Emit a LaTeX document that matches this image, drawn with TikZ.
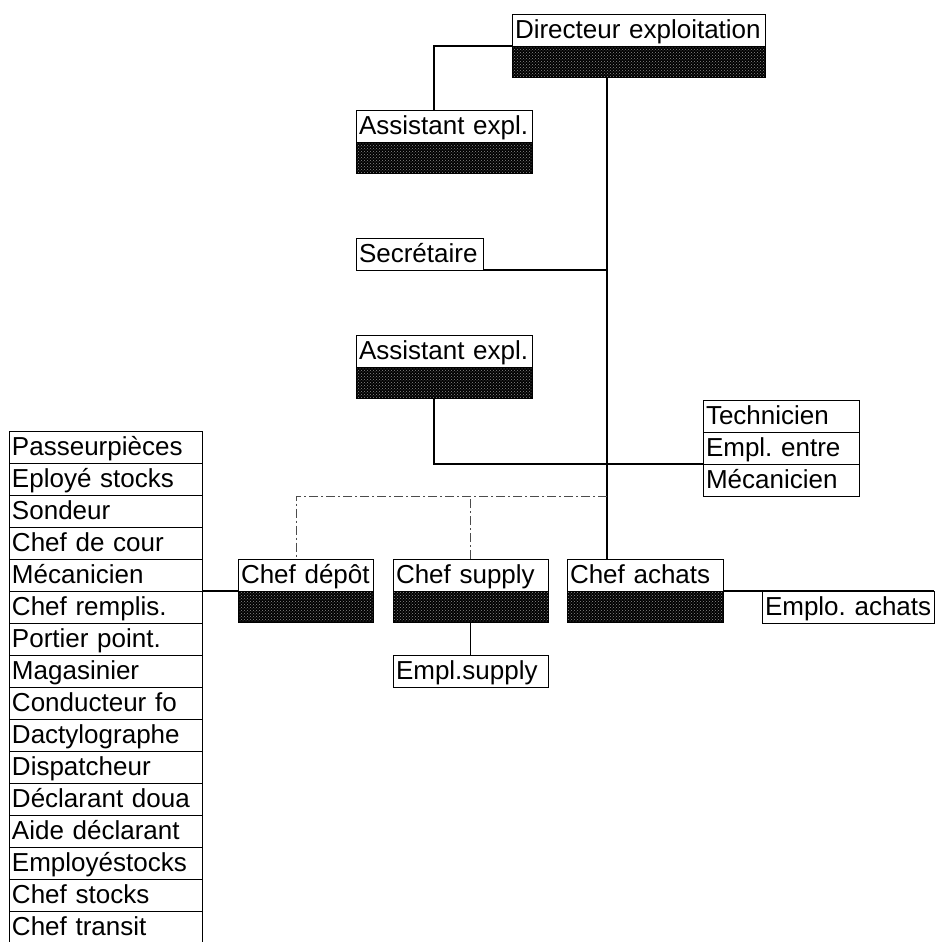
\documentclass[tikz,border=0pt]{standalone}
\usepackage{fontspec}
\setmainfont{Liberation Sans}
\usepackage{tikz}
\usetikzlibrary{positioning, patterns}
\frenchspacing

\begin{document}
\begin{tikzpicture}[
    x=1pt, y=-1pt,
    node distance=0pt,
    post/.style={
        rectangle,
        draw,
        line width=0.8pt,
        outer sep=0pt,
        text width=#1,
        inner xsep=3pt,
        inner ysep=0pt,
        text height=21pt,
        text depth=4pt,
        minimum height=32pt,
        fill=white,
        align=left,
        font=\fontsize{26}{30}\selectfont
    },
    postBar/.style={
        rectangle,
        draw,
        line width=0.8pt,
        outer sep=0pt,
        text width=#1,
        inner xsep=3pt,
        inner ysep=0pt,
        minimum height=31pt,
        preaction={fill=black},
        pattern=crosshatch dots,
        pattern color=black!45
    },
    link/.style={line width=1.2pt},
    faint/.style={line width=0.9pt, black!70, dash pattern=on 9pt off 3pt on 2pt off 3pt}
]
\useasboundingbox (0,0) rectangle (940,942);

% Top
\node[post=247pt, anchor=north west] (dir) at (512,14) {Directeur exploitation};
\node[postBar=247pt, below=of dir] (dirBar) {};

\node[post=170pt, anchor=north west] (asstA) at (356,110) {Assistant expl.};
\node[postBar=170pt, below=of asstA] (asstABar) {};

\node[post=121pt, anchor=north west] (sec) at (356,238) {Secrétaire};

\node[post=170pt, anchor=north west] (asstB) at (356,335) {Assistant expl.};
\node[postBar=170pt, below=of asstB] (asstBBar) {};

\coordinate (spine) at (607,0);
\coordinate (bus) at (607,496);

% Right stack
\node[post=150pt, anchor=north west] (tech) at (703,400) {Technicien};
\node[post=150pt, below=of tech] (entre) {Empl. entre};
\node[post=150pt, below=of entre] (meca) {Mécanicien};

% Left column
\node[post=187pt, anchor=north west] (pass) at (9,431) {Passeurpièces};
\node[post=187pt, below=of pass] (eplo) {Eployé stocks};
\node[post=187pt, below=of eplo] (sond) {Sondeur};
\node[post=187pt, below=of sond] (cour) {Chef de cour};
\node[post=187pt, below=of cour] (mecaL) {Mécanicien};
\node[post=187pt, below=of mecaL] (remp) {Chef remplis.};
\node[post=187pt, below=of remp] (port) {Portier point.};
\node[post=187pt, below=of port] (mag) {Magasinier};
\node[post=187pt, below=of mag] (cond) {Conducteur fo};
\node[post=187pt, below=of cond] (dact) {Dactylographe};
\node[post=187pt, below=of dact] (disp) {Dispatcheur};
\node[post=187pt, below=of disp] (decl) {Déclarant doua};
\node[post=187pt, below=of decl] (aide) {Aide déclarant};
\node[post=187pt, below=of aide] (emps) {Employéstocks};
\node[post=187pt, below=of emps] (chst) {Chef stocks};
\node[post=187pt, below=of chst] (chtr) {Chef transit};

% Chefs row
\node[post=129pt, anchor=north west] (cdep) at (238,559) {Chef dépôt};
\node[postBar=129pt, below=of cdep] (cdepBar) {};

\node[post=149pt, right=20pt of cdep] (csup) {Chef supply};
\node[postBar=149pt, below=of csup] (csupBar) {};

\node[post=150pt, right=19pt of csup] (cach) {Chef achats};
\node[postBar=150pt, below=of cach] (cachBar) {};

\node[post=149pt, below=33pt of csupBar] (emsup) {Empl.supply};
\node[post=166pt, anchor=north west] (emach) at ([xshift=39pt]cach.south east) {Emplo.~achats};

% Connectors
\draw[link] (dir.south west) -| ([xshift=-10pt]asstA.north);
\draw[link] (dirBar.south -| spine) -- (cach.north -| spine);
\draw[link] (sec.south east) -- (sec.south east -| spine);
\draw[link] ([xshift=-10pt]asstBBar.south) |- (meca.north west);
\draw[faint] (bus) -| ([xshift=-9pt]cdep.north);
\draw[faint] (csup.north) -- (csup.north |- bus);
\draw[link] (csupBar.south) -- (emsup.north);
\draw[link] (cach.south east) -- (emach.north east);
\draw[link] (cdep.south west) -- (cdep.south west -| remp.east);

\end{tikzpicture}
\end{document}
